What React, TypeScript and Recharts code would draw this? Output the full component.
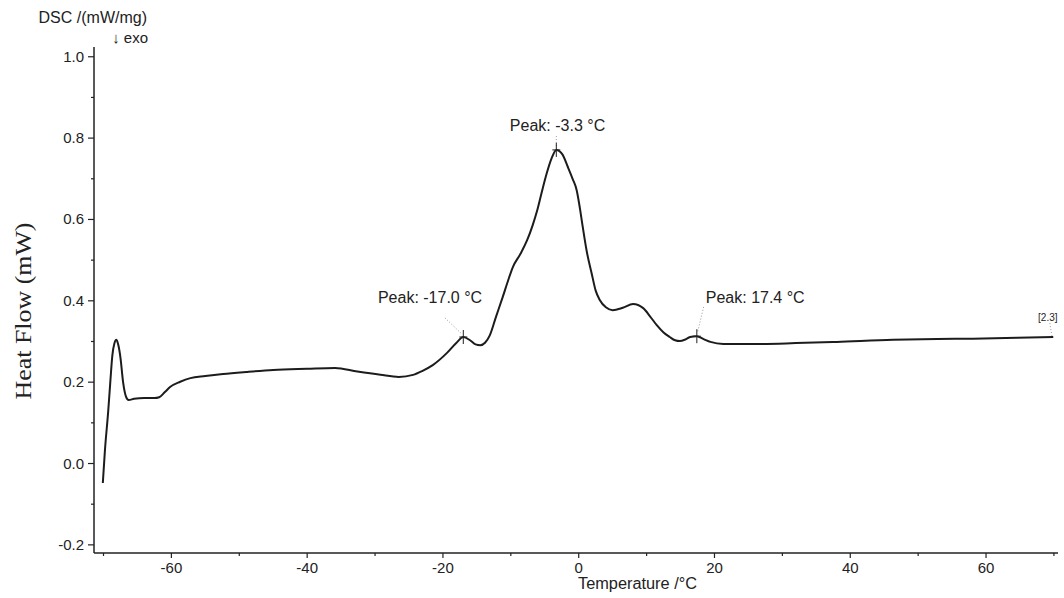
import { LineChart, Line, XAxis, YAxis, ReferenceDot, ReferenceLine } from "recharts";

// DSC trace: temperature (°C) vs heat flow (mW/mg)
const temperatures = [
  -70.1, -69.8, -69.3, -69.0, -68.7, -68.4, -68.1, -67.8, -67.5, -67.1, -66.7, -66.3,
  -65.5, -64.0, -62.5, -61.8, -61.0, -60.2, -58.7, -57.2, -55.0, -52.4, -49.0, -45.0,
  -40.0, -35.9, -32.6, -29.2, -26.5, -24.4, -23.0, -21.5, -19.4, -18.0, -17.0, -16.0,
  -15.2, -14.5, -13.8, -13.1, -12.2, -11.2, -10.4, -9.7, -8.6, -7.6, -6.8, -6.1, -5.4,
  -4.7, -4.0, -3.3, -2.4, -1.6, -0.9, -0.3, 0.2, 0.6, 1.2, 1.9, 2.5, 3.1, 4.0, 5.0, 6.5,
  8.0, 9.5, 10.5, 11.5, 12.5, 13.4, 14.2, 14.9, 15.7, 16.4, 17.4, 18.4, 19.4, 21.3,
  26.8, 32.0, 38.0, 46.3, 52.8, 58.0, 64.6, 69.9,
];
const heatFlow = [
  -0.048, 0.03, 0.13, 0.2, 0.265, 0.295, 0.304, 0.29, 0.26, 0.198, 0.165, 0.156,
  0.159, 0.161, 0.161, 0.163, 0.175, 0.188, 0.201, 0.21, 0.215, 0.22, 0.225, 0.23,
  0.233, 0.235, 0.226, 0.218, 0.213, 0.218, 0.228, 0.242, 0.272, 0.297, 0.311, 0.303,
  0.293, 0.291, 0.297, 0.315, 0.36, 0.409, 0.45, 0.483, 0.515, 0.549, 0.585, 0.623, 0.67,
  0.714, 0.75, 0.771, 0.76, 0.729, 0.7, 0.672, 0.625, 0.581, 0.52, 0.468, 0.425, 0.402,
  0.384, 0.377, 0.383, 0.392, 0.382, 0.362, 0.34, 0.322, 0.311, 0.303, 0.301, 0.305,
  0.311, 0.313, 0.306, 0.299, 0.294, 0.294, 0.296, 0.299, 0.304, 0.306, 0.307, 0.309,
  0.311,
];

const xTicks = [-70, -60, -50, -40, -30, -20, -10, 0, 10, 20, 30, 40, 50, 60, 70];
const yTicks = [-0.2, -0.1, 0, 0.1, 0.2, 0.3, 0.4, 0.5, 0.6, 0.7, 0.8, 0.9, 1.0];

const peakTemps = [-17.0, -3.3, 17.4];
const peakValues = [0.311, 0.771, 0.313];
const peakLabels = ["Peak: -17.0 °C", "Peak: -3.3 °C", "Peak: 17.4 °C"];

const data = temperatures.map((t, i) => ({ t, hf: heatFlow[i] }));

const FONT = "'Liberation Sans', Arial, sans-serif";
const INK = "#222";

function XTick({ x, y, payload }: any) {
  const v = payload.value;
  const major = v % 20 === 0;
  return (
    <g>
      <line x1={x} x2={x} y1={y} y2={y + (major ? 5 : 3)} stroke={INK} strokeWidth={1.2} />
      {major && (
        <text x={x} y={y + 20} textAnchor="middle" fontSize={15} fontFamily={FONT} fill={INK}>
          {v}
        </text>
      )}
    </g>
  );
}

function YTick({ x, y, payload }: any) {
  const v = payload.value;
  const major = Math.round(v * 10) % 2 === 0;
  return (
    <g>
      <line x1={x} x2={x - (major ? 6 : 3)} y1={y} y2={y} stroke={INK} strokeWidth={1.2} />
      {major && (
        <text x={x - 10} y={y + 5} textAnchor="end" fontSize={15} fontFamily={FONT} fill={INK}>
          {v.toFixed(1)}
        </text>
      )}
    </g>
  );
}

const textShape = (label: string, size: number) => (p: any) => (
  <text
    x={p.cx}
    y={p.cy}
    textAnchor="middle"
    dominantBaseline="central"
    fontSize={size}
    fontFamily={FONT}
    fill={INK}
  >
    {label}
  </text>
);

const crossShape = (p: any) => (
  <g stroke={INK} strokeWidth={1}>
    <line x1={p.cx} x2={p.cx} y1={p.cy - 7} y2={p.cy + 7} />
    <line x1={p.cx - 4} x2={p.cx + 4} y1={p.cy} y2={p.cy} />
  </g>
);

export default function App() {
  return (
    <div style={{ position: "absolute", left: 0, top: 0, width: 1064, height: 598, background: "#fff" }}>
      <LineChart
        width={1064}
        height={598}
        data={data}
        margin={{ top: 47, right: 6, left: 34, bottom: 5 }}
      >
        <XAxis
          dataKey="t"
          type="number"
          domain={[-71.4, 70.6]}
          allowDataOverflow
          ticks={xTicks}
          interval={0}
          tick={<XTick />}
          tickLine={false}
          tickSize={0}
          tickMargin={0}
          height={40}
          axisLine={{ stroke: INK, strokeWidth: 1.5 }}
        />
        <YAxis
          type="number"
          domain={[-0.22, 1.024]}
          allowDataOverflow
          ticks={yTicks}
          interval={0}
          tick={<YTick />}
          tickLine={false}
          tickSize={0}
          tickMargin={0}
          width={60}
          axisLine={{ stroke: INK, strokeWidth: 1.5 }}
        />
        <Line
          dataKey="hf"
          type="monotone"
          stroke="#1c1c1c"
          strokeWidth={2}
          dot={false}
          activeDot={false}
          isAnimationActive={false}
        />

        {/* dotted leaders from the peak labels */}
        <ReferenceLine
          segment={[{ x: -19.7, y: 0.358 }, { x: -17.2, y: 0.318 }]}
          stroke="#999"
          strokeDasharray="1 2"
          ifOverflow="visible"
        />
        <ReferenceLine
          segment={[{ x: -3.3, y: 0.805 }, { x: -3.3, y: 0.775 }]}
          stroke="#999"
          strokeDasharray="1 2"
          ifOverflow="visible"
        />
        <ReferenceLine
          segment={[{ x: 18.4, y: 0.385 }, { x: 17.5, y: 0.322 }]}
          stroke="#999"
          strokeDasharray="1 2"
          ifOverflow="visible"
        />
        <ReferenceLine
          segment={[{ x: 69.4, y: 0.345 }, { x: 69.7, y: 0.314 }]}
          stroke="#999"
          strokeDasharray="1 2"
          ifOverflow="visible"
        />

        {peakTemps.map((t, i) => (
          <ReferenceDot key={`pk-${i}`} x={t} y={peakValues[i]} r={0} shape={crossShape} ifOverflow="visible" />
        ))}

        <ReferenceDot x={-21.9} y={0.407} r={0} shape={textShape(peakLabels[0], 16)} ifOverflow="visible" />
        <ReferenceDot x={-3.12} y={0.832} r={0} shape={textShape(peakLabels[1], 16)} ifOverflow="visible" />
        <ReferenceDot x={26.0} y={0.407} r={0} shape={textShape(peakLabels[2], 16)} ifOverflow="visible" />
        <ReferenceDot x={69.1} y={0.358} r={0} shape={textShape("[2.3]", 10)} ifOverflow="visible" />
      </LineChart>

      <svg
        width={1064}
        height={598}
        style={{ position: "absolute", left: 0, top: 0, pointerEvents: "none" }}
      >
        <text x={147} y={23} textAnchor="end" fontSize={16} fontFamily={FONT} fill={INK}>
          DSC /(mW/mg)
        </text>
        <text x={148} y={43} textAnchor="end" fontSize={15} fontFamily={FONT} fill={INK}>
          ↓ exo
        </text>
        <text
          x={23}
          y={311}
          transform="rotate(-90 23 311)"
          textAnchor="middle"
          dominantBaseline="central"
          fontSize={24}
          fontFamily="'Liberation Serif', 'Times New Roman', serif"
          fill={INK}
          textLength={177}
          lengthAdjust="spacingAndGlyphs"
        >
          Heat Flow (mW)
        </text>
        <text
          x={578}
          y={589}
          fontSize={16}
          fontFamily={FONT}
          fill={INK}
          textLength={119}
          lengthAdjust="spacingAndGlyphs"
        >
          Temperature /°C
        </text>
      </svg>
    </div>
  );
}
